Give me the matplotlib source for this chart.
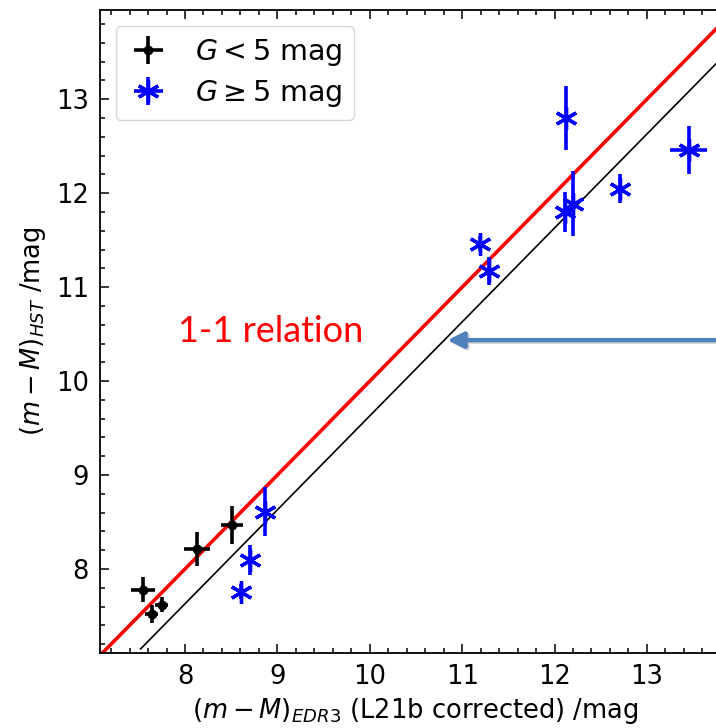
import numpy as np
import matplotlib.pyplot as plt
from matplotlib.ticker import MultipleLocator
from matplotlib.lines import Line2D

plt.rcParams['font.family'] = ['DejaVu Sans']
plt.rcParams['mathtext.fontset'] = 'dejavusans'

# bright stars, G < 5 mag
bright_x = [7.55, 7.64, 7.75, 8.13, 8.51]
bright_y = [7.78, 7.52, 7.62, 8.21, 8.47]
bright_xerr = [0.13, 0.07, 0.07, 0.145, 0.12]
bright_yerr = [0.13, 0.10, 0.08, 0.18, 0.20]

# fainter stars, G >= 5 mag
faint_x = [8.61, 8.70, 8.87, 11.19, 11.29, 12.12, 12.11, 12.20, 12.71, 13.45]
faint_y = [7.76, 8.10, 8.61, 11.46, 11.17, 12.80, 11.80, 11.89, 12.05, 12.46]
faint_xerr = [0.03, 0.03, 0.03, 0.04, 0.04, 0.03, 0.04, 0.04, 0.04, 0.20]
faint_yerr = [0.08, 0.16, 0.26, 0.08, 0.15, 0.34, 0.21, 0.35, 0.15, 0.26]

one_to_one = np.array([7.0, 14.5])
offset_x = np.array([7.52, 14.5])
offset = 0.37

fig = plt.figure(figsize=(7.16, 7.28), dpi=100)
ax = fig.add_axes([100 / 716, 75 / 728, 0.880, 643 / 728])

ax.plot(one_to_one, one_to_one, color='red', lw=2.6, zorder=2)
ax.plot(offset_x, offset_x - offset, color='black', lw=1.2, zorder=2)

ax.errorbar(bright_x, bright_y, xerr=bright_xerr, yerr=bright_yerr,
            fmt='o', color='black', ms=6, elinewidth=2.6, capsize=0,
            label=r'$G < 5$ mag', zorder=3)
ax.errorbar(faint_x, faint_y, xerr=faint_xerr, yerr=faint_yerr,
            fmt='none', ecolor='blue', elinewidth=2.6, capsize=0, zorder=3)
ax.plot(faint_x, faint_y, ls='none', marker=(6, 2, 0), color='blue',
        ms=16, mew=2.4, zorder=4)
# legend handle for the faint stars
ax.errorbar([np.nan], [np.nan], xerr=[0.1], yerr=[0.1], fmt='none',
            ecolor='blue', elinewidth=2.6, label=r'$G \geq 5$ mag')

h, l = ax.get_legend_handles_labels()
star = Line2D([], [], ls='none', marker=(6, 2, 0), color='blue', ms=16, mew=2.4)
ax.legend([h[0], (h[1], star)], l, loc='upper left', fontsize=20.5,
          handlelength=1.5, handletextpad=0.9, borderpad=0.4,
          labelspacing=0.35, borderaxespad=0.55)

ax.set_xlim(7.08, 13.9)
ax.set_ylim(7.106, 13.95)
ax.xaxis.set_major_locator(MultipleLocator(1))
ax.yaxis.set_major_locator(MultipleLocator(1))
ax.xaxis.set_minor_locator(MultipleLocator(0.2))
ax.yaxis.set_minor_locator(MultipleLocator(0.2))
ax.tick_params(which='both', direction='in', top=True, right=True,
               labelsize=18.5, width=1.1)
ax.tick_params(which='major', length=6.5, pad=8)
ax.tick_params(which='minor', length=3.6)
for s in ax.spines.values():
    s.set_linewidth(1.3)

ax.set_xlabel(r'$(m-M)_{EDR3}$ (L21b corrected) /mag', fontsize=18.5, labelpad=4)
ax.set_ylabel(r'$(m-M)_{HST}$ /mag', fontsize=18.5, labelpad=6)

ax.text(7.92, 10.53, '1-1 relation', color='red', fontsize=26,
        family='Lato', ha='left', va='center')

# arrow pointing at the offset line (with a soft shadow)
ax.annotate('', xy=(10.86, 10.42), xytext=(14.2, 10.42),
            arrowprops=dict(arrowstyle='-|>', color='#d4d4d4', lw=3.2,
                            mutation_scale=24, shrinkA=0, shrinkB=0), zorder=1)
ax.annotate('', xy=(10.84, 10.436), xytext=(14.2, 10.436),
            arrowprops=dict(arrowstyle='-|>', color='#4f81bd', lw=3.2,
                            mutation_scale=24, shrinkA=0, shrinkB=0), zorder=2)

fig.savefig('out.png', dpi=100)
